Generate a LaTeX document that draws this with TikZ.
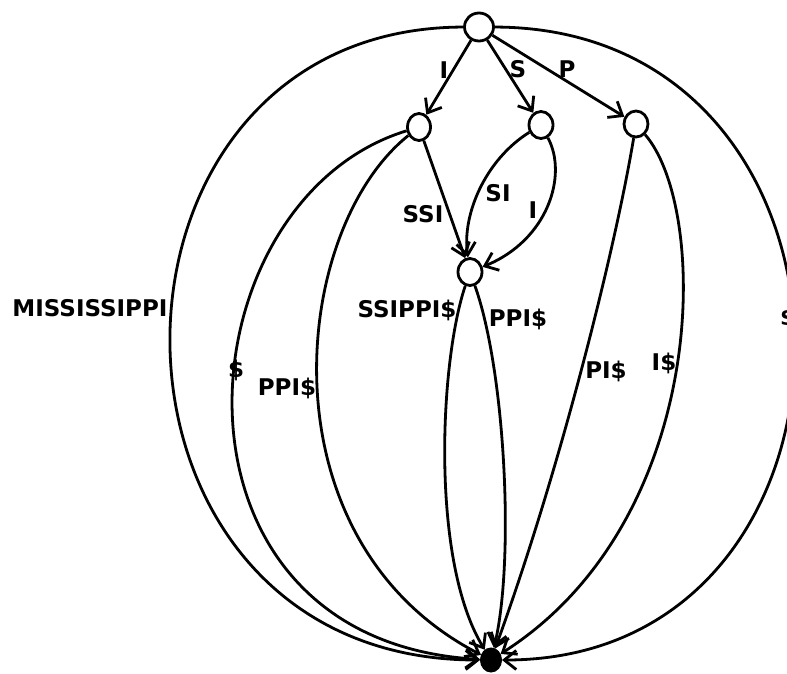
\documentclass[tikz,border=0pt]{standalone}
\usepackage{fontspec}
\setmainfont{DejaVu Sans}
\usetikzlibrary{arrows.meta,shapes.geometric}
\begin{document}
\begin{tikzpicture}[x=1pt,y=-1pt,
  st/.style={draw,ellipse,line width=2.8pt,inner sep=0pt,fill=white},
  leafst/.style={draw,fill=black,ellipse,line width=1pt,inner sep=0pt,minimum width=21pt,minimum height=24pt},
  lbl/.style={font=\bfseries\fontsize{23}{27}\selectfont,inner sep=0pt},
  e/.style={line width=2.8pt,-{Straight Barb[length=12pt,width=19pt]}}]
\useasboundingbox (0,0) rectangle (787,673);
% nodes
\node[st,minimum width=29pt,minimum height=28pt] (r) at (479,27) {};
\node[st,minimum width=23pt,minimum height=27pt] (a) at (419,127) {};
\node[st,minimum width=24pt,minimum height=27pt] (b) at (541,125) {};
\node[st,minimum width=24pt,minimum height=26pt] (c) at (636,124) {};
\node[st,minimum width=24pt,minimum height=27pt] (d) at (470,272) {};
\node[leafst] (z) at (491,660) {};
% edges
\draw[e] (r) -- (a);
\draw[e] (r) -- (b);
\draw[e] (r) -- (c);
\draw[e] (r) .. controls (70,28) and (70,660) .. (z);
\draw[e] (r) .. controls (893,28) and (893,660) .. (z);
\draw[e] (a) .. controls (180,200) and (145,640) .. (z);
\draw[e] (a) .. controls (290,230) and (260,540) .. (z);
\draw[e] (a) -- (d);
\draw[e] (b) .. controls (485,160) and (462,215) .. (d);
\draw[e] (b) .. controls (568,175) and (548,240) .. (d);
\draw[e] (d) .. controls (440,360) and (430,560) .. (z);
\draw[e] (d) .. controls (505,370) and (515,560) .. (z);
\draw[e] (c) .. controls (615,250) and (560,470) .. (z);
\draw[e] (c) .. controls (710,210) and (710,520) .. (z);
% labels
\node[lbl] (l1) at (444,70) {I};
\node[lbl] (l2) at (518,69) {S};
\node[lbl] (l3) at (567,69) {P};
\node[lbl] (l4) at (423,214) {SSI};
\node[lbl] (l5) at (498,193) {SI};
\node[lbl] (l6) at (533,210) {I};
\node[lbl] (l7) at (90,308) {MISSISSIPPI};
\node[lbl] (l8) at (236,370) {\$};
\node[lbl] (l9) at (287,388) {PPI\$};
\node[lbl] (l10) at (407,310) {SSIPPI\$};
\node[lbl] (l11) at (518,319) {PPI\$};
\node[lbl] (l12) at (606,371) {PI\$};
\node[lbl] (l13) at (664,363) {I\$};
\node[lbl,anchor=west] (l14) at (780,318) {\$};
\end{tikzpicture}
\end{document}
